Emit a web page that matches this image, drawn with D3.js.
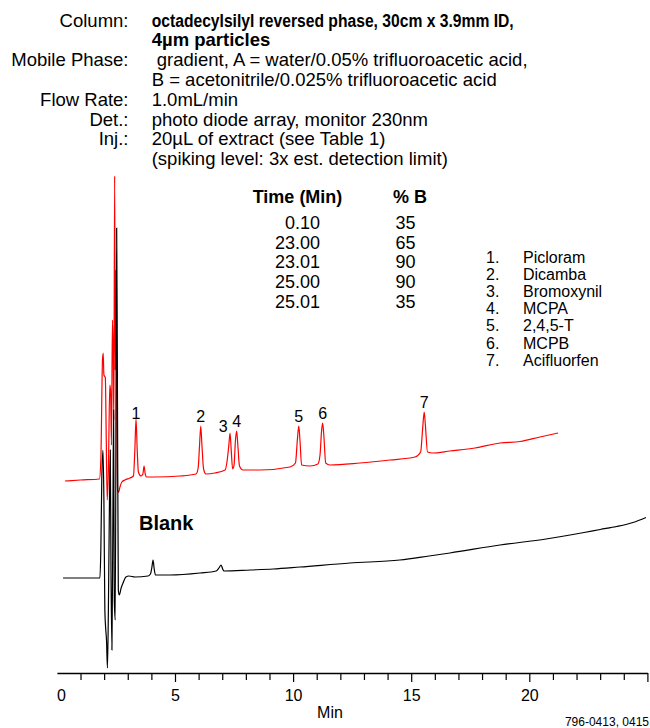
<!DOCTYPE html>
<html>
<head>
<meta charset="utf-8">
<script src="https://cdn.jsdelivr.net/npm/d3@7"></script>
<style>
  body { margin: 0; background: #fff; }
  svg { display: block; font-family: "Liberation Sans", Arial, sans-serif; }
</style>
</head>
<body>
<div id="chart"></div>
<script>
// Conditions text
const headerLabels = ["Column:", "", "Mobile Phase:", "", "Flow Rate:", "Det.:", "Inj.:", ""];
const headerValues = [
  "octadecylsilyl reversed phase, 30cm x 3.9mm ID,",
  "4µm particles",
  " gradient, A = water/0.05% trifluoroacetic acid,",
  "B = acetonitrile/0.025% trifluoroacetic acid",
  "1.0mL/min",
  "photo diode array, monitor 230nm",
  "20µL of extract (see Table 1)",
  "(spiking level: 3x est. detection limit)"
];

// Gradient table
const gradientTime = ["0.10", "23.00", "23.01", "25.00", "25.01"];
const gradientB = [35, 65, 90, 90, 35];

// Peak identification
const compounds = ["Picloram", "Dicamba", "Bromoxynil", "MCPA", "2,4,5-T", "MCPB", "Acifluorfen"];
const peakTimes = [3.35, 6.09, 7.33, 7.61, 10.24, 11.25, 15.55];

// Spiked sample trace (min, signal)
const sampleTime = [0.34, 1.00, 1.80, 1.86, 1.93, 1.96, 1.99, 2.05, 2.09, 2.13, 2.18, 2.24, 2.27, 2.31, 2.35, 2.38, 2.41, 2.445, 2.47, 2.50, 2.54, 2.57, 2.61, 2.67, 2.75, 2.88, 3.09, 3.24, 3.30, 3.35, 3.40, 3.45, 3.56, 3.64, 3.69, 3.74, 3.80, 4.15, 5.21, 5.89, 5.98, 6.04, 6.09, 6.14, 6.21, 6.31, 6.69, 7.12, 7.20, 7.28, 7.33, 7.38, 7.44, 7.50, 7.56, 7.61, 7.66, 7.73, 7.88, 8.60, 9.87, 10.10, 10.18, 10.24, 10.29, 10.36, 10.72, 11.05, 11.14, 11.20, 11.25, 11.30, 11.38, 11.56, 12.83, 14.10, 15.16, 15.40, 15.48, 15.55, 15.60, 15.69, 15.92, 16.64, 17.70, 18.76, 19.61, 20.45, 21.22];
const sampleSignal = [37.8, 38.0, 38.2, 42, 62, 63.4, 59, 58.5, 46, 34, 40, 57, 56, 45, 70, 64, 50, 98.8, 60, 80, 48, 36, 35.5, 36.6, 37.6, 38.0, 38.4, 38.8, 44, 50.2, 44, 39.6, 38.8, 39.2, 40.8, 39.2, 38.6, 38.6, 38.8, 39.2, 40.4, 45, 48.8, 45, 40.2, 39.2, 39.4, 40, 41.6, 45, 47.4, 44, 40.2, 41, 46, 47.8, 45, 40.8, 40, 40, 40.6, 41.4, 46, 48.8, 46, 41, 40.8, 41.2, 43, 47.5, 49.4, 47, 41.4, 41, 41.4, 42, 42.6, 43.6, 48, 51.6, 49, 43.6, 43.4, 43.8, 44.4, 45.4, 45.7, 46.6, 47.4];

// Blank trace (min, signal)
const blankTime = [0.26, 1.00, 1.82, 1.86, 1.90, 1.95, 1.99, 2.03, 2.07, 2.10, 2.14, 2.18, 2.23, 2.26, 2.29, 2.33, 2.37, 2.40, 2.43, 2.47, 2.53, 2.56, 2.60, 2.64, 2.72, 2.80, 2.92, 3.05, 3.31, 3.86, 3.96, 4.02, 4.07, 4.12, 4.17, 4.79, 6.06, 6.74, 6.86, 6.95, 7.02, 7.07, 8.18, 9.15, 10.29, 12.41, 14.52, 15.76, 16.64, 18.76, 20.71, 22.32, 23.0, 23.7, 24.39, 24.94];
const blankSignal = [18.4, 18.4, 18.4, 24, 38, 44, 34, 12, 8, 6, 0.4, 12, 36, 44, 20, 4, 30, 52, 14, 10, 88.4, 60, 16, 15, 16.4, 17.4, 18.6, 18.8, 18.6, 18.8, 19.2, 20.5, 22, 20.2, 19, 19, 19.4, 19.8, 20.4, 21, 20.2, 19.8, 20, 20.2, 20.6, 21.4, 22, 22.8, 23.4, 25, 26.2, 27.5, 28.1, 28.7, 29.5, 30.5];

// Axis ticks
const tickMinutes = d3.range(0, 26);
const labelMinutes = [0, 5, 10, 15, 20];

const W = 650, H = 728;
const svg = d3.select("#chart").append("svg")
  .attr("width", W)
  .attr("height", H);

const x = d3.scaleLinear().domain([0, 25]).range([56.9, 647.4]);
const y = d3.scaleLinear().domain([0, 100]).range([670, 170]);

// Header block
const header = svg.append("g").attr("font-size", 18.5);
header.selectAll(".hlabel")
  .data(headerLabels)
  .enter().append("text")
  .attr("x", 128.5)
  .attr("y", (d, i) => 26.7 + i * 19.76)
  .attr("text-anchor", "end")
  .text(d => d);
header.selectAll(".hvalue")
  .data(headerValues)
  .enter().append("text")
  .attr("x", 151.7)
  .attr("y", (d, i) => 26.7 + i * 19.76)
  .style("white-space", "pre")
  .attr("font-weight", (d, i) => i < 2 ? "bold" : "normal")
  .text(d => d);
// the first bold line is set narrower in the original
header.selectAll("text").filter(d => d === headerValues[0])
  .attr("font-size", 18)
  .attr("textLength", 362)
  .attr("lengthAdjust", "spacingAndGlyphs");

// Gradient table
const table = svg.append("g").attr("font-size", 18);
table.append("text").attr("x", 252.7).attr("y", 202.5).attr("font-weight", "bold").text("Time (Min)");
table.append("text").attr("x", 393).attr("y", 202.5).attr("font-weight", "bold").text("% B");
table.selectAll(".gt")
  .data(gradientTime)
  .enter().append("text")
  .attr("x", 320)
  .attr("y", (d, i) => 229 + i * 19.7)
  .attr("text-anchor", "end")
  .text(d => d);
table.selectAll(".gb")
  .data(gradientB)
  .enter().append("text")
  .attr("x", 415.5)
  .attr("y", (d, i) => 229 + i * 19.7)
  .attr("text-anchor", "end")
  .text(d => d);

// Compound legend
const legend = svg.append("g").attr("font-size", 16);
legend.selectAll(".num")
  .data(compounds)
  .enter().append("text")
  .attr("x", 486)
  .attr("y", (d, i) => 262.5 + i * 17.2)
  .text((d, i) => `${i + 1}.`);
legend.selectAll(".name")
  .data(compounds)
  .enter().append("text")
  .attr("x", 523)
  .attr("y", (d, i) => 262.5 + i * 17.2)
  .text(d => d);

// Traces
const line = d3.line()
  .x(d => x(d[0]))
  .y(d => y(d[1]))
  .curve(d3.curveMonotoneX);

const sample = sampleTime.map((t, i) => [t, sampleSignal[i]]);
const blank = blankTime.map((t, i) => [t, blankSignal[i]]);

svg.append("path")
  .datum(sample)
  .attr("fill", "none")
  .attr("stroke", "#ff0000")
  .attr("stroke-width", 1.2)
  .attr("d", line);

svg.append("path")
  .datum(blank)
  .attr("fill", "none")
  .attr("stroke", "#000")
  .attr("stroke-width", 1.2)
  .attr("d", line);

// Peak numbers, above each peak top (no. 3 sits to the left of its peak)
const peakTop = t => d3.max(sample.filter(p => Math.abs(p[0] - t) < 0.03), p => p[1]);
svg.append("g").attr("font-size", 16)
  .selectAll("text")
  .data(peakTimes)
  .enter().append("text")
  .attr("x", (d, i) => i === 2 ? x(d) - 2.5 : x(d))
  .attr("y", (d, i) => y(peakTop(d)) - (i === 2 ? 1.5 : i === 0 ? 0 : 4.5))
  .attr("text-anchor", (d, i) => i === 2 ? "end" : "middle")
  .text((d, i) => i + 1);

svg.append("text")
  .attr("x", 139)
  .attr("y", 530)
  .attr("font-size", 20)
  .attr("font-weight", "bold")
  .text("Blank");

// Time axis
const axis = d3.axisBottom(x)
  .tickValues(tickMinutes)
  .tickSizeOuter(0)
  .tickFormat(d => labelMinutes.includes(d) ? d : "");

const gx = svg.append("g")
  .attr("transform", "translate(0,673)")
  .call(axis);
gx.select(".domain").attr("stroke-width", 1.4);
gx.selectAll(".tick line")
  .attr("stroke-width", 1.2)
  .attr("y2", d => d === 0 ? 0 : (d % 5 === 0 ? 9 : 7));
gx.selectAll(".tick text")
  .attr("y", 17)
  .attr("dx", d => d === 0 ? 4 : 0)
  .attr("font-size", 16)
  .attr("font-family", "Liberation Sans, Arial, sans-serif")
  .attr("fill", "#000");

svg.append("text")
  .attr("x", 330)
  .attr("y", 717.5)
  .attr("text-anchor", "middle")
  .attr("font-size", 16)
  .text("Min");

svg.append("text")
  .attr("x", 649)
  .attr("y", 726)
  .attr("text-anchor", "end")
  .attr("font-size", 12)
  .text("796-0413, 0415");
</script>
</body>
</html>
